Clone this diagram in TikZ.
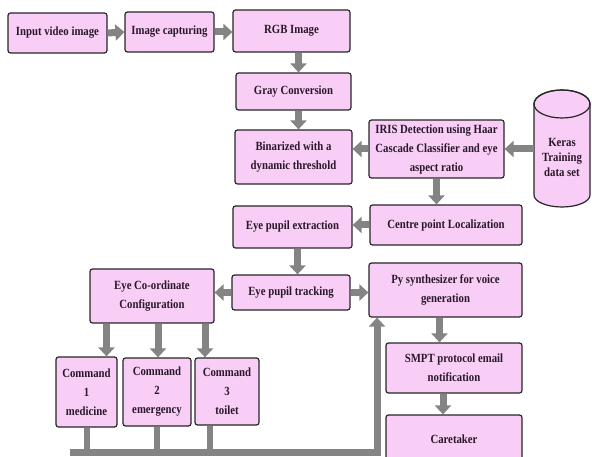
\documentclass[tikz,border=0pt]{standalone}
\usepackage{fontspec}
\setmainfont{Liberation Serif}[FakeStretch=0.86]
\usepackage{xcolor}
\usetikzlibrary{arrows.meta,positioning,calc}

\definecolor{boxpink}{RGB}{249,206,246}
\definecolor{arrgray}{RGB}{132,132,132}
\definecolor{txtdark}{RGB}{40,24,40}

\begin{document}
\begin{tikzpicture}[x=1pt,y=-1pt,
		blk/.style={draw=black!85,line width=1.2pt,rounded corners=2.5pt,fill=boxpink,
			align=center,text=txtdark,inner sep=2pt,
			font=\bfseries\fontsize{12.5}{19}\selectfont},
		garrow/.style={draw=arrgray,line width=7pt,-{Triangle[width=16pt,length=9pt]}},
		gline/.style={draw=arrgray,line width=6pt}]
		
		\useasboundingbox (0,0) rectangle (592,457);
		
		% top row
		\node[blk,minimum width=99,minimum height=40] (inp) at (57.5,33) {Input video image};
		\node[blk,minimum width=89,minimum height=40] (cap) at (169.5,32) {Image capturing};
		\node[blk,minimum width=117,minimum height=42] (rgb) at (291.5,31) {RGB Image};
		
		% middle column
		\node[blk,minimum width=115,minimum height=37] (gray) at (293.5,91.5) {Gray Conversion};
		\node[blk,minimum width=117,minimum height=54] (bin) at (293.5,157) {Binarized with a\\dynamic threshold};
		\node[blk,minimum width=119,minimum height=42] (extr) at (292.5,227) {Eye pupil extraction};
		\node[blk,minimum width=118,minimum height=35] (track) at (291,292.5) {Eye pupil tracking};
		
		% right column
		\node[blk,minimum width=135,minimum height=58] (iris) at (436.5,149) {IRIS Detection using Haar\\Cascade Classifier and eye\\aspect ratio};
		\node[blk,minimum width=152,minimum height=40] (centre) at (446,225) {Centre point Localization};
		\node[blk,minimum width=153,minimum height=54] (py) at (445.5,290) {Py synthesizer for voice\\generation};
		\node[blk,minimum width=136,minimum height=50] (smpt) at (454,368) {SMPT protocol email\\notification};
		\node[blk,minimum width=136,minimum height=48] (care) at (454,439) {Caretaker};
		
		% data set
		\draw[draw=black!85,line width=1.2pt,fill=boxpink] (534,104) -- (534,195)
		arc[start angle=180,end angle=0,x radius=28,y radius=12] -- (590,104)
		arc[start angle=0,end angle=-180,x radius=28,y radius=14] -- cycle;
		\draw[draw=black!85,line width=1.2pt] (562,104) ellipse[x radius=28,y radius=14];
		\node[align=center,text=txtdark,minimum width=56,inner sep=0pt,
		font=\bfseries\fontsize{12.5}{15}\selectfont] (keras) at (562,157) {Keras\\Training\\data set};
		
		% left part
		\node[blk,minimum width=124,minimum height=54] (config) at (152,296) {Eye Co-ordinate\\Configuration};
		\node[blk,minimum width=61,minimum height=70] (cmdA) at (86.5,392) {Command\\1\\medicine};
		\node[blk,minimum width=68,minimum height=68] (cmdB) at (157,392) {Command\\2\\emergency};
		\node[blk,minimum width=64,minimum height=67] (cmdC) at (227,391.5) {Command\\3\\toilet};
		
		% arrows
		\draw[garrow] (inp.east) -- (cap.west);
		\draw[garrow] (cap.east) -- (cap.east -| rgb.west);
		\draw[garrow] ([xshift=7pt]rgb.south) -- ([xshift=7pt]rgb.south |- gray.north);
		\draw[garrow] ([xshift=5pt]gray.south) -- ([xshift=5pt]gray.south |- bin.north);
		\draw[garrow] (iris.west) -- (iris.west -| bin.east);
		\draw[garrow] (keras.west |- iris.east) -- (iris.east);
		\draw[garrow] (iris.south) -- (iris.south |- centre.north);
		\draw[garrow] (centre.west) -- (centre.west -| extr.east);
		\draw[garrow] ([xshift=5pt]extr.south) -- ([xshift=5pt]extr.south |- track.north);
		\draw[garrow] (track.west) -- (track.west -| config.east);
		\draw[garrow] (track.east) -- (track.east -| py.west);
		\draw[garrow] ([xshift=-6pt]py.south) -- ([xshift=-6pt]py.south |- smpt.north);
		\draw[garrow] ([xshift=-11pt]smpt.south) -- ([xshift=-11pt]smpt.south |- care.north);
		
		\draw[garrow] ([xshift=20pt]cmdA.north |- config.south) -- ([xshift=20pt]cmdA.north);
		\draw[garrow] ([xshift=1pt]cmdB.north |- config.south) -- ([xshift=1pt]cmdB.north);
		\draw[garrow] ([xshift=-22pt]cmdC.north |- config.south) -- ([xshift=-22pt]cmdC.north);
		
		% feedback bus
		\coordinate (busL) at (70,452);
		\coordinate (busR) at (377,452);
		\draw[gline] (cmdA.south) -- (cmdA.south |- busL);
		\draw[gline] (cmdB.south) -- (cmdB.south |- busL);
		\draw[gline] ([xshift=-17pt]cmdC.south) -- ([xshift=-17pt]cmdC.south |- busL);
		\draw[garrow,line join=miter] (busL) -- (busR) -- (busR |- py.south);
		
	\end{tikzpicture}
\end{document}
